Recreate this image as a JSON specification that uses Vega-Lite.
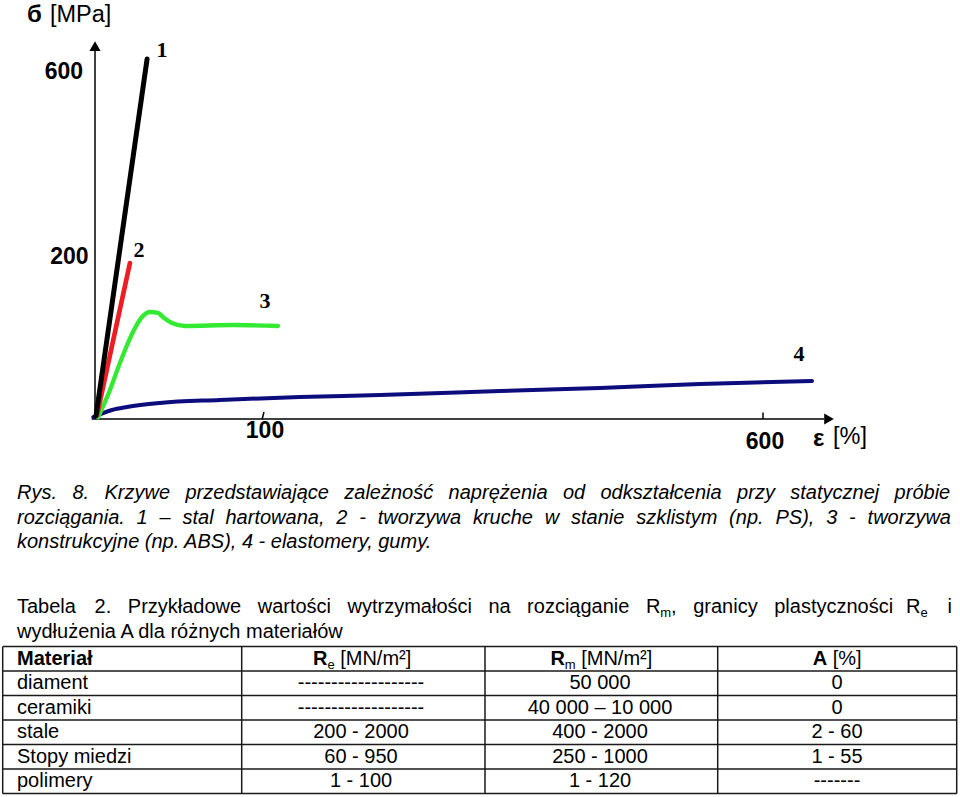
{
  "$schema": "https://vega.github.io/schema/vega-lite/v6.json",
  "width": 960,
  "height": 797,
  "autosize": {"type": "none"},
  "padding": 0,
  "background": "white",
  "config": {
    "view": {"stroke": null},
    "axis": {"disable": true},
    "legend": {"disable": true},
    "font": "Liberation Sans"
  },
  "resolve": {"scale": {"x": "independent", "y": "independent"}},
  "layer": [
    {
      "encoding": {
        "x": {"field": "eps", "type": "quantitative", "scale": {"domain": [0, 100, 600], "range": [95, 263, 763], "nice": false, "zero": false}, "axis": null},
        "y": {"field": "sig", "type": "quantitative", "scale": {"domain": [0, 200, 600], "range": [419, 257, 72], "nice": false, "zero": false}, "axis": null}
      },
      "layer": [
        {
          "data": {"values": [
            {"part": "y-axis", "eps": 0, "sig": 0, "eps2": 0, "sig2": 648},
            {"part": "x-axis", "eps": -2, "sig": 0, "eps2": 661, "sig2": 0},
            {"part": "tick100", "eps": 99.5, "sig": 0, "eps2": 101, "sig2": 8.6},
            {"part": "tick600", "eps": 600, "sig": 0, "eps2": 600, "sig2": 8}
          ]},
          "mark": {"type": "rule", "color": "black", "strokeWidth": 1.5},
          "encoding": {"x2": {"field": "eps2"}, "y2": {"field": "sig2"}}
        },
        {
          "data": {"values": [
            {"dir": "up", "eps": 0, "sig": 656},
            {"dir": "right", "eps": 666, "sig": 0}
          ]},
          "mark": {"type": "point", "filled": true, "color": "black", "opacity": 1, "size": 125},
          "encoding": {
            "shape": {"field": "dir", "type": "nominal", "scale": {"domain": ["up", "right"], "range": ["triangle-up", "triangle-right"]}, "legend": null}
          }
        },
        {
          "data": {"values": [
            {"curve": "4", "eps": -1, "sig": 2.5},
            {"curve": "4", "eps": 4.8, "sig": 7.4},
            {"curve": "4", "eps": 10.1, "sig": 11.1},
            {"curve": "4", "eps": 19.0, "sig": 14.8},
            {"curve": "4", "eps": 38.7, "sig": 19.8},
            {"curve": "4", "eps": 74.4, "sig": 23.5},
            {"curve": "4", "eps": 137, "sig": 27.2},
            {"curve": "4", "eps": 217, "sig": 29.6},
            {"curve": "4", "eps": 337, "sig": 34.6},
            {"curve": "4", "eps": 437, "sig": 38.3},
            {"curve": "4", "eps": 537, "sig": 43.2},
            {"curve": "4", "eps": 649, "sig": 46.9},
            {"curve": "3", "eps": 1.8, "sig": 2},
            {"curve": "3", "eps": 8.9, "sig": 35.8},
            {"curve": "3", "eps": 13.7, "sig": 63.0},
            {"curve": "3", "eps": 17.9, "sig": 85.2},
            {"curve": "3", "eps": 22.6, "sig": 107.4},
            {"curve": "3", "eps": 28.0, "sig": 125.9},
            {"curve": "3", "eps": 32.7, "sig": 132.1},
            {"curve": "3", "eps": 37.5, "sig": 130.9},
            {"curve": "3", "eps": 41.1, "sig": 124.7},
            {"curve": "3", "eps": 45.8, "sig": 118.5},
            {"curve": "3", "eps": 53.6, "sig": 114.8},
            {"curve": "3", "eps": 82.1, "sig": 116.0},
            {"curve": "3", "eps": 115, "sig": 114.8},
            {"curve": "2", "eps": 1.2, "sig": 4.9},
            {"curve": "2", "eps": 20.8, "sig": 192.6},
            {"curve": "1", "eps": 0.6, "sig": 3.7},
            {"curve": "1", "eps": 31, "sig": 628}
          ]},
          "mark": {"type": "line", "interpolate": "monotone", "strokeCap": "round", "strokeJoin": "round"},
          "encoding": {
            "color": {"field": "curve", "type": "nominal", "scale": {"domain": ["1", "2", "3", "4"], "range": ["#000000", "#ee1d23", "#33ea33", "#0c0c7c"]}, "legend": null},
            "strokeWidth": {"field": "curve", "type": "ordinal", "scale": {"domain": ["1", "2", "3", "4"], "range": [5, 4, 5, 5]}, "legend": null}
          }
        },
        {
          "data": {"values": [
            {"t": "1", "eps": 39.9, "sig": 648.6},
            {"t": "2", "eps": 26.2, "sig": 215.4},
            {"t": "3", "eps": 102, "sig": 145.7},
            {"t": "4", "eps": 636, "sig": 80.2}
          ]},
          "mark": {"type": "text", "font": "Liberation Serif", "fontWeight": "bold", "fontSize": 22, "align": "center", "baseline": "middle", "color": "black"},
          "encoding": {"text": {"field": "t"}}
        },
        {
          "data": {"values": [
            {"t": "600", "eps": -18.5, "sig": 601},
            {"t": "200", "eps": -15.2, "sig": 200},
            {"t": "100", "eps": 102, "sig": -14.8},
            {"t": "600", "eps": 602, "sig": -27.8}
          ]},
          "mark": {"type": "text", "fontWeight": "bold", "fontSize": 23, "align": "center", "baseline": "middle", "color": "black"},
          "encoding": {"text": {"field": "t"}}
        },
        {
          "data": {"values": [
            {"t": "б", "eps": -40.5, "sig": 723},
            {"t": "ε", "eps": 650, "sig": -24.7}
          ]},
          "mark": {"type": "text", "fontWeight": "bold", "fontSize": 24, "align": "left", "baseline": "middle", "color": "black"},
          "encoding": {"text": {"field": "t"}}
        },
        {
          "data": {"values": [
            {"t": "[MPa]", "eps": -26.8, "sig": 723},
            {"t": "[%]", "eps": 670, "sig": -22.8}
          ]},
          "mark": {"type": "text", "fontSize": 23.5, "align": "left", "baseline": "middle", "color": "black"},
          "encoding": {"text": {"field": "t"}}
        }
      ]
    },
    {
      "encoding": {
        "x": {"field": "pos", "type": "quantitative", "scale": {"domain": [0, 960], "range": [0, 960], "nice": false, "zero": false}, "axis": null},
        "y": {"field": "line", "type": "quantitative", "scale": {"domain": [1, 2], "range": [493, 517.5], "nice": false, "zero": false}, "axis": null},
        "text": {"field": "t"}
      },
      "layer": [
        {
          "data": {"values": [
            {"t": "Rys.", "line": 1, "pos": 17},
            {"t": "8.", "line": 1, "pos": 72.4},
            {"t": "Krzywe", "line": 1, "pos": 104.5},
            {"t": "przedstawiające", "line": 1, "pos": 185.5},
            {"t": "zależność", "line": 1, "pos": 344.3},
            {"t": "naprężenia", "line": 1, "pos": 448.6},
            {"t": "od", "line": 1, "pos": 562.9},
            {"t": "odkształcenia", "line": 1, "pos": 600.5},
            {"t": "przy", "line": 1, "pos": 737.1},
            {"t": "statycznej", "line": 1, "pos": 790.3},
            {"t": "próbie", "line": 1, "pos": 894.6},
            {"t": "rozciągania.", "line": 2, "pos": 17},
            {"t": "1", "line": 2, "pos": 136.6},
            {"t": "–", "line": 2, "pos": 159.6},
            {"t": "stal", "line": 2, "pos": 182.5},
            {"t": "hartowana,", "line": 2, "pos": 225.5},
            {"t": "2", "line": 2, "pos": 336.2},
            {"t": "-", "line": 2, "pos": 359.2},
            {"t": "tworzywa", "line": 2, "pos": 377.7},
            {"t": "kruche", "line": 2, "pos": 472.9},
            {"t": "w", "line": 2, "pos": 544.7},
            {"t": "stanie", "line": 2, "pos": 571.0},
            {"t": "szklistym", "line": 2, "pos": 636.2},
            {"t": "(np.", "line": 2, "pos": 729.1},
            {"t": "PS),", "line": 2, "pos": 775.5},
            {"t": "3", "line": 2, "pos": 826.2},
            {"t": "-", "line": 2, "pos": 849.1},
            {"t": "tworzywa", "line": 2, "pos": 867.6},
            {"t": "konstrukcyjne (np. ABS), 4 - elastomery, gumy.", "line": 3, "pos": 17}
          ]},
          "mark": {"type": "text", "fontStyle": "italic", "fontSize": 20, "align": "left", "baseline": "middle", "color": "black"}
        },
        {
          "data": {"values": [
            {"t": "Tabela", "line": 5.673, "pos": 17},
            {"t": "2.", "line": 5.673, "pos": 94.6},
            {"t": "Przykładowe", "line": 5.673, "pos": 127.8},
            {"t": "wartości", "line": 5.673, "pos": 257.7},
            {"t": "wytrzymałości", "line": 5.673, "pos": 347.5},
            {"t": "na", "line": 5.673, "pos": 488.4},
            {"t": "rozciąganie", "line": 5.673, "pos": 527.1},
            {"t": "R", "line": 5.673, "pos": 645.9},
            {"t": ",", "line": 5.673, "pos": 671.1},
            {"t": "granicy", "line": 5.673, "pos": 693.2},
            {"t": "plastyczności", "line": 5.673, "pos": 774.2},
            {"t": "R", "line": 5.673, "pos": 906},
            {"t": "i", "line": 5.673, "pos": 947.6},
            {"t": "wydłużenia A dla różnych materiałów", "line": 6.673, "pos": 17},
            {"t": "[MN/m²]", "line": 7.77, "pos": 340.2},
            {"t": "[MN/m²]", "line": 7.77, "pos": 581.2},
            {"t": "[%]", "line": 7.77, "pos": 832.7},
            {"t": "diament", "line": 8.77, "pos": 17},
            {"t": "ceramiki", "line": 9.77, "pos": 17},
            {"t": "stale", "line": 10.77, "pos": 17},
            {"t": "Stopy miedzi", "line": 11.77, "pos": 17},
            {"t": "polimery", "line": 12.77, "pos": 17}
          ]},
          "mark": {"type": "text", "fontSize": 20, "align": "left", "baseline": "middle", "color": "black"}
        },
        {
          "data": {"values": [
            {"t": "-------------------", "line": 8.77, "pos": 361},
            {"t": "50 000", "line": 8.77, "pos": 600},
            {"t": "0", "line": 8.77, "pos": 837},
            {"t": "-------------------", "line": 9.77, "pos": 361},
            {"t": "40 000 – 10 000", "line": 9.77, "pos": 600},
            {"t": "0", "line": 9.77, "pos": 837},
            {"t": "200 - 2000", "line": 10.77, "pos": 361},
            {"t": "400 - 2000", "line": 10.77, "pos": 600},
            {"t": "2 - 60", "line": 10.77, "pos": 837},
            {"t": "60 - 950", "line": 11.77, "pos": 361},
            {"t": "250 - 1000", "line": 11.77, "pos": 600},
            {"t": "1 - 55", "line": 11.77, "pos": 837},
            {"t": "1 - 100", "line": 12.77, "pos": 361},
            {"t": "1 - 120", "line": 12.77, "pos": 600},
            {"t": "-------", "line": 12.77, "pos": 837}
          ]},
          "mark": {"type": "text", "fontSize": 20, "align": "center", "baseline": "middle", "color": "black"}
        },
        {
          "data": {"values": [
            {"t": "m", "line": 5.673, "pos": 660.3},
            {"t": "e", "line": 5.673, "pos": 920.4},
            {"t": "e", "line": 7.77, "pos": 327.4},
            {"t": "m", "line": 7.77, "pos": 564.8}
          ]},
          "mark": {"type": "text", "fontSize": 13, "dy": 6, "align": "left", "baseline": "middle", "color": "black"}
        },
        {
          "data": {"values": [
            {"t": "Materiał", "line": 7.77, "pos": 17},
            {"t": "R", "line": 7.77, "pos": 313},
            {"t": "R", "line": 7.77, "pos": 550.4},
            {"t": "A", "line": 7.77, "pos": 812.7}
          ]},
          "mark": {"type": "text", "fontSize": 20, "fontWeight": "bold", "align": "left", "baseline": "middle", "color": "black"}
        },
        {
          "data": {"values": [
            {"pos": 2.7, "pos2": 956.7, "line": 7.27, "line2": 7.27},
            {"pos": 2.7, "pos2": 956.7, "line": 8.27, "line2": 8.27},
            {"pos": 2.7, "pos2": 956.7, "line": 9.27, "line2": 9.27},
            {"pos": 2.7, "pos2": 956.7, "line": 10.27, "line2": 10.27},
            {"pos": 2.7, "pos2": 956.7, "line": 11.27, "line2": 11.27},
            {"pos": 2.7, "pos2": 956.7, "line": 12.27, "line2": 12.27},
            {"pos": 2.7, "pos2": 956.7, "line": 13.27, "line2": 13.27},
            {"pos": 2.7, "pos2": 2.7, "line": 7.27, "line2": 13.27},
            {"pos": 241.7, "pos2": 241.7, "line": 7.27, "line2": 13.27},
            {"pos": 485, "pos2": 485, "line": 7.27, "line2": 13.27},
            {"pos": 717.7, "pos2": 717.7, "line": 7.27, "line2": 13.27},
            {"pos": 956.7, "pos2": 956.7, "line": 7.27, "line2": 13.27}
          ]},
          "mark": {"type": "rule", "color": "#1a1a1a", "strokeWidth": 1.5},
          "encoding": {"text": null, "x2": {"field": "pos2"}, "y2": {"field": "line2"}}
        }
      ]
    }
  ]
}
